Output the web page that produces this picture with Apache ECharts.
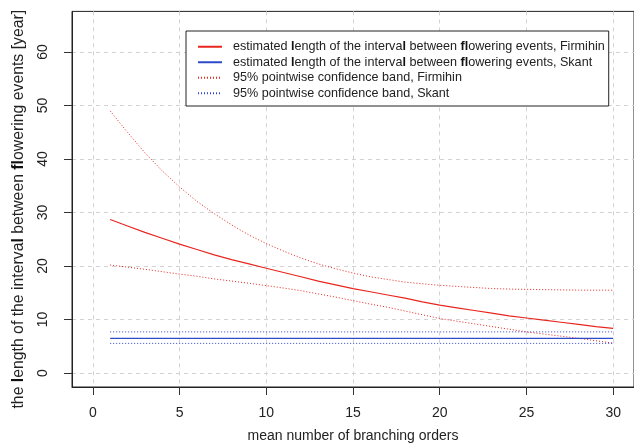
<!DOCTYPE html>
<html>
<head>
<meta charset="utf-8">
<script src="https://cdn.jsdelivr.net/npm/echarts@6/dist/echarts.min.js"></script>
<style>
html,body{margin:0;padding:0;background:#fff;}
#chart{width:634px;height:448px;}
</style>
</head>
<body>
<div id="chart"></div>
<script>
// ---- data ----
var xValues = [1,2,3,4,5,6,7,8,9,10,11,12,13,14,15,16,17,18,19,20,21,22,23,24,25,26,27,28,29,30];
var firmihinEst = [28.7,27.5,26.3,25.2,24.1,23.1,22.1,21.2,20.4,19.6,18.8,18.0,17.2,16.5,15.8,15.2,14.6,14.0,13.3,12.7,12.2,11.7,11.2,10.7,10.3,9.9,9.5,9.1,8.7,8.35];
var firmihinUpper = [49.0,45.0,41.2,37.8,34.8,32.1,29.8,27.7,25.8,24.2,22.8,21.5,20.4,19.5,18.7,18.0,17.5,17.0,16.7,16.4,16.2,16.0,15.8,15.7,15.65,15.6,15.55,15.5,15.5,15.5];
var firmihinLower = [20.2,19.8,19.4,18.95,18.5,18.1,17.6,17.2,16.8,16.35,15.9,15.4,14.8,14.2,13.55,12.9,12.3,11.6,10.9,10.2,9.7,9.2,8.7,8.2,7.7,7.3,6.9,6.5,6.05,5.6];
var skantX = [1,30];
var skantEst = [6.5,6.5];
var skantUpper = [7.7,7.7];
var skantLower = [5.55,5.55];
var xTicks = [0,5,10,15,20,25,30];
var yTicks = [0,10,20,30,40,50,60];
var seriesNames = [
  'estimated length of the interval between flowering events, Firmihin',
  'estimated length of the interval between flowering events, Skant',
  '95% pointwise confidence band, Firmihin',
  '95% pointwise confidence band, Skant'
];
var xTitle = 'mean number of branching orders';
var yTitle = 'the length of the interval between flowering events [year]';

function pairs(xs, ys){ return xs.map(function(x,i){ return [x, ys[i]]; }); }
function boldify(s){
  return s.replace('length','{b|l}ength').replace('interval','interva{b|l}').replace('flowering','{b|fl}owering');
}

var FONT = '"Liberation Sans", Arial, Helvetica, sans-serif';
var RED = '#e8261e', BLUE = '#2d4bc8', BLUED = '#3344d6';

var chart = echarts.init(document.getElementById('chart'), null, {renderer:'canvas'});
var option = {
  animation: false,
  backgroundColor: '#fff',
  textStyle: {fontFamily: FONT},
  grid: {left: 72, top: 11.4, width: 566, height: 378.3, show: true, borderColor: '#222', borderWidth: 1, backgroundColor: 'transparent'},
  legend: {
    orient: 'vertical', left: 186, top: 31,
    data: [seriesNames[0], seriesNames[1], seriesNames[2], seriesNames[3]],
    backgroundColor: '#fff', borderColor: '#222', borderWidth: 1, borderRadius: 0,
    padding: [8, 4, 5, 11],
    itemWidth: 24, itemHeight: 10, itemGap: 0,
    itemStyle: {opacity: 0},
    formatter: function(n){ return boldify(n); },
    textStyle: {fontSize: 12.6, color: '#222', fontFamily: FONT, lineHeight: 15.5, padding: [0,0,0,6],
      rich: {b: {fontWeight: 'bold', fontSize: 12.6, color: '#111', fontFamily: FONT, lineHeight: 15.5}}}
  },
  xAxis: {
    type: 'value', min: -1.2, max: 31.2, position: 'bottom',
    name: xTitle, nameLocation: 'middle', nameGap: 42,
    nameTextStyle: {fontSize: 14, color: '#222', fontFamily: FONT},
    axisLine: {show: true, onZero: false, lineStyle: {color: '#222', width: 1}},
    axisTick: {show: true, inside: false, length: 8, customValues: xTicks, lineStyle: {color: '#333', width: 1}},
    axisLabel: {show: true, customValues: xTicks, margin: 19, fontSize: 14, color: '#222', fontFamily: FONT},
    splitLine: {show: true, lineStyle: {color: '#d3d3d3', type: [4,4], width: 1}}
  },
  yAxis: {
    type: 'value', min: -2.6, max: 67.6, position: 'left',
    name: boldify(yTitle), nameLocation: 'middle', nameGap: 45,
    nameTextStyle: {fontSize: 15.8, color: '#222', fontFamily: FONT, padding: [0,20,0,0],
      rich: {b: {fontWeight: 'bold', fontSize: 15.8, color: '#111', fontFamily: FONT}}},
    axisLine: {show: true, onZero: false, lineStyle: {color: '#222', width: 1}},
    axisTick: {show: true, inside: false, length: 8, customValues: yTicks, lineStyle: {color: '#333', width: 1}},
    axisLabel: {show: true, customValues: yTicks, rotate: 90, margin: 22, fontSize: 14, color: '#222', fontFamily: FONT},
    splitLine: {show: true, lineStyle: {color: '#d3d3d3', type: [4,4], width: 1}}
  },
  series: [
    {name: seriesNames[0], type: 'line', symbol: 'none', data: pairs(xValues, firmihinEst), lineStyle: {color: RED, width: 1.2}, itemStyle: {color: RED}, z: 5},
    {name: seriesNames[1], type: 'line', symbol: 'none', data: pairs(skantX, skantEst), lineStyle: {color: BLUE, width: 1.2}, itemStyle: {color: BLUE}, z: 5},
    {name: seriesNames[2], type: 'line', symbol: 'none', data: pairs(xValues, firmihinUpper), lineStyle: {color: RED, width: 1, type: [1,2]}, itemStyle: {color: RED}, z: 4},
    {name: seriesNames[3], type: 'line', symbol: 'none', data: pairs(skantX, skantUpper), lineStyle: {color: BLUED, width: 1, type: [1,2]}, itemStyle: {color: BLUED}, z: 4},
    {name: seriesNames[2], type: 'line', symbol: 'none', data: pairs(xValues, firmihinLower), lineStyle: {color: RED, width: 1, type: [1,2]}, itemStyle: {color: RED}, z: 4},
    {name: seriesNames[3], type: 'line', symbol: 'none', data: pairs(skantX, skantLower), lineStyle: {color: BLUED, width: 1, type: [1,2]}, itemStyle: {color: BLUED}, z: 4}
  ]
};
chart.setOption(option);
</script>
</body>
</html>
